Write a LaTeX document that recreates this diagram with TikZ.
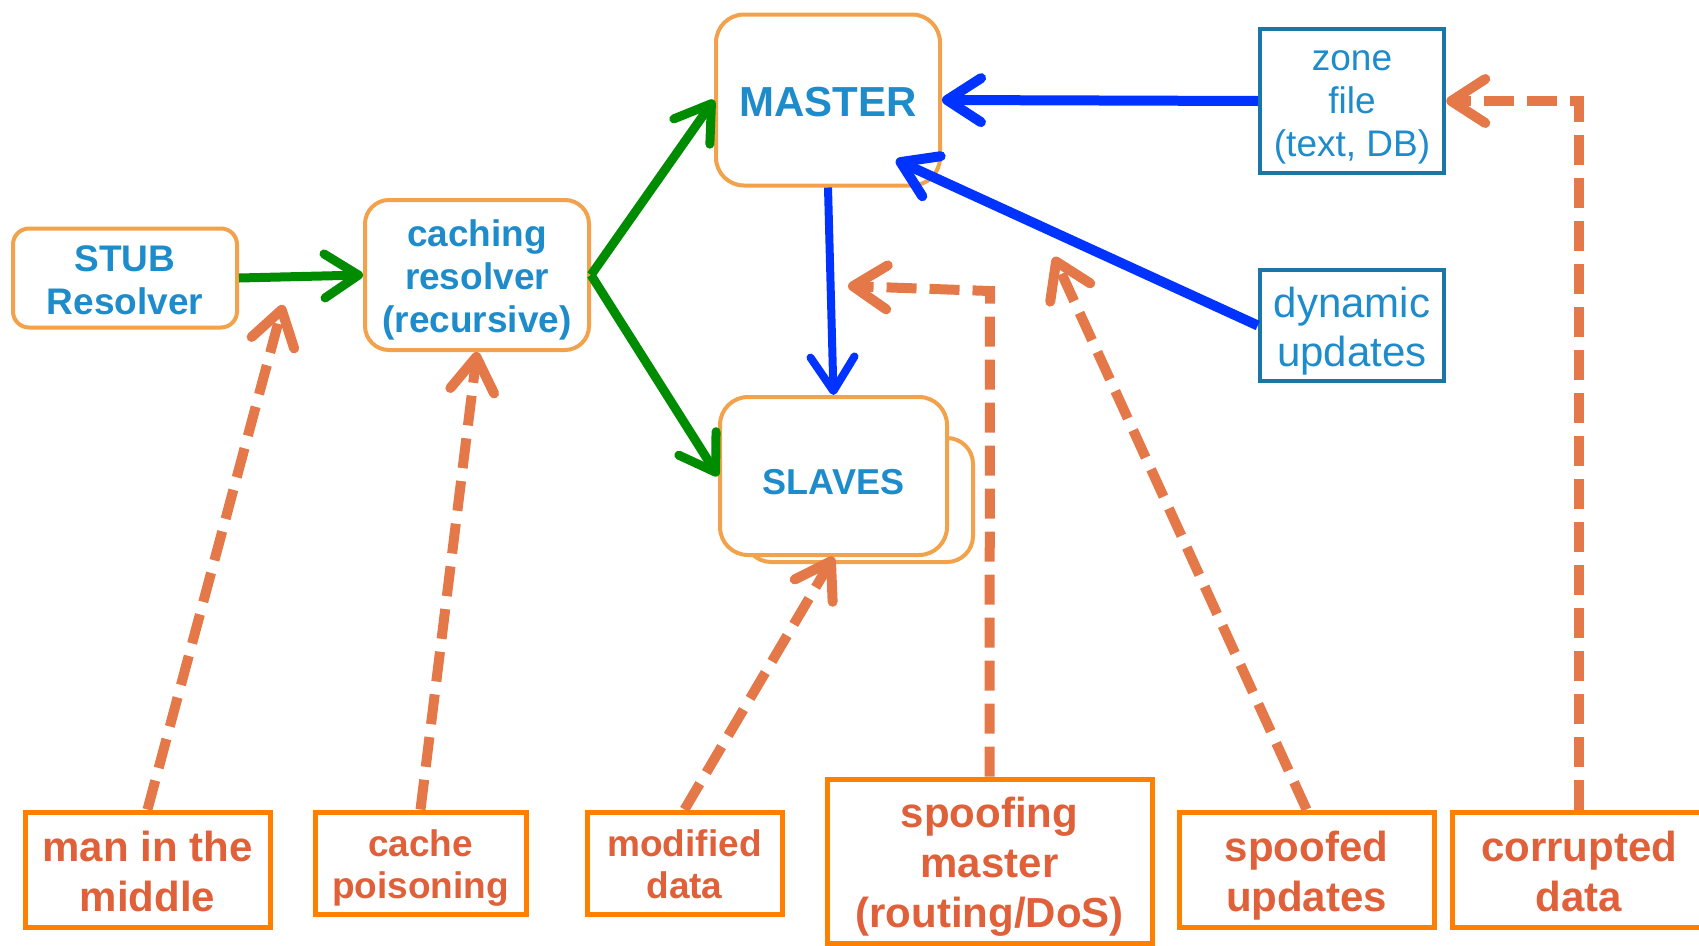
\documentclass[tikz,border=0pt]{standalone}
\usepackage{fontspec}
\setmainfont{Liberation Sans}
\usetikzlibrary{arrows.meta}

\definecolor{srvblue}{HTML}{1E8CCB}
\definecolor{srvedge}{HTML}{F3A24C}
\definecolor{srcedge}{HTML}{1A75A8}
\definecolor{atkedge}{HTML}{FF7F00}
\definecolor{atktext}{HTML}{E0603A}
\definecolor{atkline}{HTML}{E57848}
\definecolor{qgreen}{HTML}{008C00}
\definecolor{feedblue}{HTML}{0033FF}

% fixed ascent on the first line and descent on the last line,
% so every label sits at the same height whatever its letters
\newcommand\tst[1][1.02]{\rule{0pt}{#1em}}
\newcommand\bst{\rule[-0.22em]{0pt}{0pt}}

\tikzset{
  chev/.tip={Straight Barb[length=34pt,width=44pt,round]},
  server/.style={draw=srvedge, line width=4pt, fill=white, text=srvblue,
    align=center, inner sep=0pt, font=\bfseries\fontsize{37}{43}\selectfont},
  source/.style={draw=srcedge, line width=4.5pt, fill=white, text=srvblue,
    align=center, inner sep=0pt},
  attack/.style={draw=atkedge, line width=5pt, fill=white, text=atktext,
    align=center, inner sep=0pt, font=\bfseries\fontsize{42}{50}\selectfont},
  attacksmall/.style={attack, font=\bfseries\fontsize{37}{42}\selectfont},
  query/.style={draw=qgreen, line width=9pt, -chev},
  feed/.style={draw=feedblue, line width=10pt, -chev},
  threat/.style={draw=atkline, line width=10pt, dash pattern=on 30pt off 13pt, -chev},
}

\begin{document}
\begin{tikzpicture}[x=1pt, y=-1pt]
\useasboundingbox (0,0) rectangle (1699,945);

% resolvers and name servers
\node[server, rounded corners=16pt, minimum width=224pt, minimum height=99pt]
  (stub) at (125,278) {\tst STUB\\Resolver\bst};
\node[server, rounded corners=24pt, minimum width=224pt, minimum height=150pt]
  (caching) at (477,275) {\tst caching\\resolver\\(recursive)\bst};
\node[server, rounded corners=28pt, minimum width=224pt, minimum height=171pt,
  font=\bfseries\fontsize{42}{48}\selectfont]
  (master) at (828,100) {\tst MASTER\bst};
\node[draw=srvedge, line width=4pt, fill=white, rounded corners=26pt,
  minimum width=228pt, minimum height=124pt, inner sep=0pt]
  (slavesback) at (859,500) {};
\node[server, rounded corners=28pt, minimum width=227pt, minimum height=158pt,
  font=\bfseries\fontsize{36}{42}\selectfont]
  (slaves) at (833.5,476) {\tst[1.22]SLAVES\bst};

% data sources
\node[source, minimum width=184pt, minimum height=144pt,
  font=\fontsize{37}{43}\selectfont]
  (zone) at (1352,101) {\tst[0.9]zone\\file\\(text, DB)\bst};
\node[source, minimum width=184pt, minimum height=111pt,
  font=\fontsize{42}{49}\selectfont]
  (dyn) at (1352,325.5) {\tst dynamic\\updates\bst};

% threats
\node[attack, minimum width=245pt, minimum height=115pt]
  (mitm) at (147.5,869.5) {\tst man in the\\middle\bst};
\node[attacksmall, minimum width=211pt, minimum height=102pt]
  (poison) at (420.5,863) {\tst cache\\poisoning\bst};
\node[attacksmall, minimum width=195pt, minimum height=102pt]
  (modified) at (684.5,863) {\tst modified\\data\bst};
\node[attack, minimum width=325pt, minimum height=164pt]
  (spoofmaster) at (989.5,861) {\tst spoofing\\master\\(routing/DoS)\bst};
\node[attack, minimum width=255pt, minimum height=115pt]
  (spoofupd) at (1306.5,869.5) {\tst spoofed\\updates\bst};
\node[attack, minimum width=254pt, minimum height=115pt]
  (corrupt) at (1579,869.5) {\tst corrupted\\data\bst};

% free ends of connectors
\coordinate (mitmtip) at (283,305);
\coordinate (dyntip) at (896,160);
\coordinate (spmbend) at (990,291);
\coordinate (spmtip) at (848,286);
\coordinate (sputip) at (1054,257);

% query path
\draw[query] (stub.east) -- (caching.west);
\draw[query] (caching.east) -- (master.west);
\draw[query] (caching.east) -- (slaves.west);

% data flow into and out of the master
\draw[feed, line width=8pt] (master.south) -- (slaves.north);
\draw[feed] (zone.west) -- (master.east);
\draw[feed] (dyn.west) -- (dyntip);

% attack points
\draw[threat] (mitm.north) -- (mitmtip);
\draw[threat] (poison.north) -- (caching.south);
\draw[threat] (modified.north) -- (slaves.south);
\draw[threat] (spoofmaster.north) -- (spmbend) -- (spmtip);
\draw[threat] (spoofupd.north) -- (sputip);
\draw[threat] (corrupt.north) |- (zone.east);
\end{tikzpicture}
\end{document}
